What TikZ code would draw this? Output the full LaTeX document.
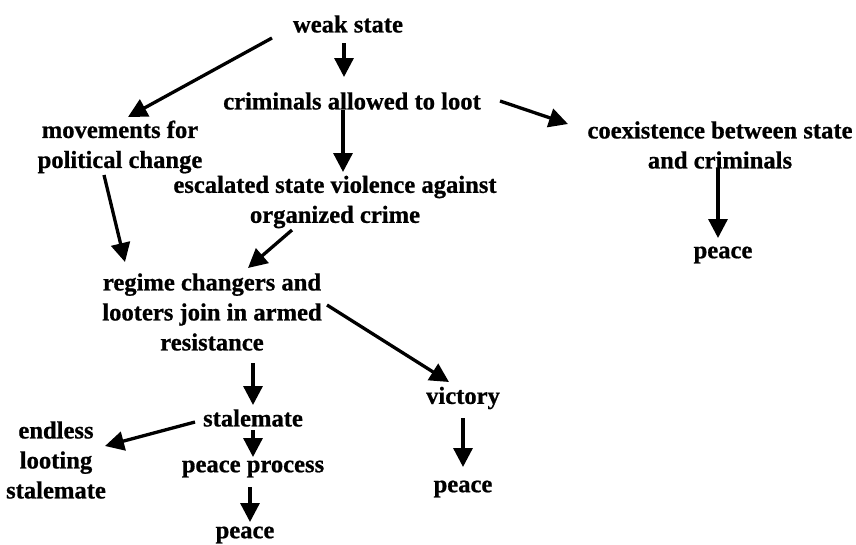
\documentclass[tikz,border=0pt]{standalone}
\usepackage{fontspec}
\setmainfont{Liberation Serif}[BoldFeatures={FakeBold=0.8}]
\usetikzlibrary{arrows.meta}
\tikzset{label/.style={align=center,inner sep=0pt,font=\fontsize{24.6}{30}\selectfont\bfseries},
         arrow/.style={-{Triangle[length=19pt,width=19pt]},line width=3.3pt}}

\begin{document}
\begin{tikzpicture}[x=1pt,y=-1pt]
    \useasboundingbox (0,0) rectangle (856,544);
    % Nodes
    \node (weak) at (348,24) [label]{weak state};
    \node (crim) at (352,101) [label]{criminals allowed to loot};
    \node (coex) at (720,145) [label]{coexistence between state\\and criminals};
    \node (peaceA) at (723,255) [label]{peace};
    \node (move) at (120,147) [label]{movements for\\political change};
    \node (esc) at (335,202) [label]{escalated state violence against\\organized crime};
    \node (regime) at (212,312) [label]{regime changers and\\looters join in armed\\resistance};
    \node (vic) at (463,398) [label]{victory};
    \node (stal) at (253,418) [label]{stalemate};
    \node (endl) at (56,460) [label]{endless\\looting\\stalemate};
    \node (pproc) at (253,469) [label]{peace process};
    \node (peaceB) at (245,535) [label]{peace};
    \node (peaceC) at (463,489) [label]{peace};
    % Arrows
    \draw[arrow] ([shift={(-76,14)}]weak.center) -- ([shift={(8,-30)}]move.center);
    \draw[arrow] ([shift={(-4,19)}]weak.center) -- ([shift={(-8,-24)}]crim.center);
    \draw[arrow] ([shift={(-9,9)}]crim.center) -- ([shift={(8,-30)}]esc.center);
    \draw[arrow] ([shift={(148,0)}]crim.center) -- ([shift={(-152,-21)}]coex.center);
    \draw[arrow] ([shift={(-2,23)}]coex.center) -- ([shift={(-5,-17)}]peaceA.center);
    \draw[arrow] ([shift={(-16,28)}]move.center) -- ([shift={(-87,-50)}]regime.center);
    \draw[arrow] ([shift={(-43,28)}]esc.center) -- ([shift={(36,-44)}]regime.center);
    \draw[arrow] ([shift={(115,-7)}]regime.center) -- ([shift={(-14,-16)}]vic.center);
    \draw[arrow] ([shift={(41,51)}]regime.center) -- ([shift={(0,-13)}]stal.center);
    \draw[arrow] ([shift={(-58,4)}]stal.center) -- ([shift={(49,-14)}]endl.center);
    \draw[arrow] ([shift={(0,12)}]stal.center) -- ([shift={(0,-12)}]pproc.center);
    \draw[arrow] ([shift={(-3,18)}]pproc.center) -- ([shift={(5,-13)}]peaceB.center);
    \draw[arrow] ([shift={(0,20)}]vic.center) -- ([shift={(0,-22)}]peaceC.center);
\end{tikzpicture}
\end{document}
